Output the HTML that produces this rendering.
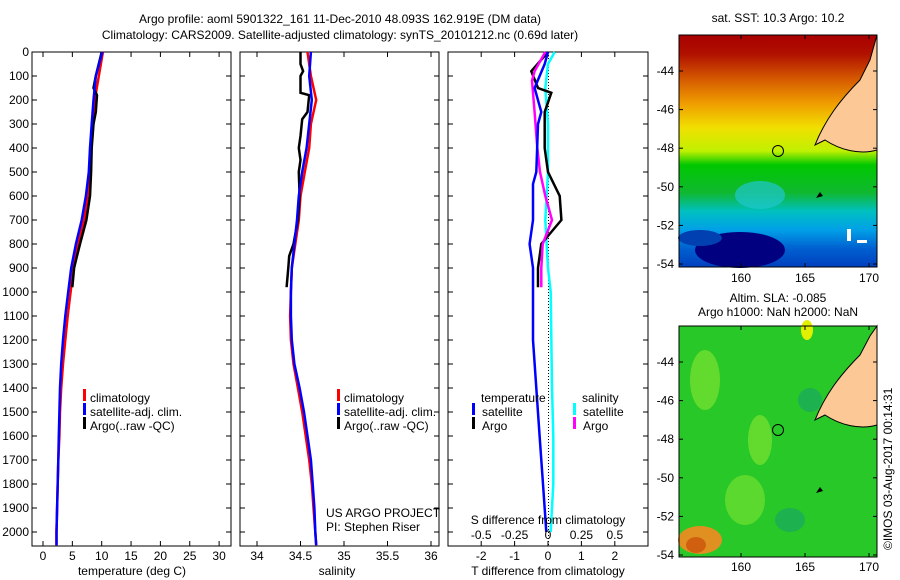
<!DOCTYPE html>
<html><head><meta charset="utf-8">
<style>
body{margin:0;background:#fff;}
svg{display:block;font-family:"Liberation Sans",sans-serif;}
text{font-size:12px;fill:#000;}
</style></head>
<body>
<svg id="chart" width="900" height="580" viewBox="0 0 900 580">
<defs>
<linearGradient id="sstg" x1="0" y1="0" x2="0" y2="1">
<stop offset="0" stop-color="#a80000"/>
<stop offset="0.08" stop-color="#b01000"/>
<stop offset="0.2" stop-color="#d86000"/>
<stop offset="0.3" stop-color="#f0a000"/>
<stop offset="0.4" stop-color="#f0e000"/>
<stop offset="0.5" stop-color="#c0f000"/>
<stop offset="0.56" stop-color="#00c800"/>
<stop offset="0.68" stop-color="#10b830"/>
<stop offset="0.76" stop-color="#00c0c0"/>
<stop offset="0.84" stop-color="#00a0e8"/>
<stop offset="0.92" stop-color="#0060d0"/>
<stop offset="1" stop-color="#0040c0"/>
</linearGradient>
</defs>
<text x="340" y="23" text-anchor="middle">Argo profile: aoml 5901322_161 11-Dec-2010 48.093S 162.919E (DM data)</text>
<text x="340" y="39" text-anchor="middle">Climatology: CARS2009. Satellite-adjusted climatology: synTS_20101212.nc (0.69d later)</text>
<g id="panels"></g>

<g>
<text x="778" y="22" text-anchor="middle">sat. SST: 10.3 Argo: 10.2</text>
<rect x="679" y="35" width="198" height="232" fill="url(#sstg)"/>
<ellipse cx="740" cy="250" rx="45" ry="18" fill="#000080"/>
<ellipse cx="700" cy="238" rx="22" ry="8" fill="#0040b0"/>
<ellipse cx="760" cy="195" rx="25" ry="14" fill="#20c8d0" opacity="0.7"/>
<path d="M877,35 L877,150 C860,155 840,150 825,140 L815,145 C825,120 840,100 860,80 L870,60 Z" fill="#fcc896" stroke="#000" stroke-width="1"/>
<circle cx="778" cy="151" r="5.5" fill="none" stroke="#000"/>
<path d="M816,198 l4,-6 l3,4 z" fill="#000"/>
<rect x="847" y="229" width="4" height="12" fill="#fff"/><rect x="857" y="240" width="10" height="3" fill="#fff"/>
<rect x="679" y="35" width="198" height="232" fill="none" stroke="#000"/>
</g>
<g>
<text x="778" y="302" text-anchor="middle">Altim. SLA: -0.085</text>
<text x="778" y="316" text-anchor="middle">Argo h1000: NaN h2000: NaN</text>
<rect x="679" y="326" width="198" height="231" fill="#28c828"/>
<ellipse cx="705" cy="380" rx="15" ry="30" fill="#70e030" opacity="0.8"/>
<ellipse cx="760" cy="440" rx="12" ry="25" fill="#70e030" opacity="0.8"/>
<ellipse cx="807" cy="330" rx="6" ry="10" fill="#e0f000"/>
<ellipse cx="810" cy="400" rx="12" ry="12" fill="#18a860" opacity="0.7"/>
<ellipse cx="745" cy="500" rx="20" ry="25" fill="#70e030" opacity="0.7"/>
<ellipse cx="790" cy="520" rx="15" ry="12" fill="#18a860" opacity="0.7"/>
<ellipse cx="700" cy="540" rx="22" ry="14" fill="#e09020"/>
<ellipse cx="696" cy="545" rx="10" ry="8" fill="#d06010"/>
<path d="M877,326 L877,425 C860,430 840,425 825,415 L815,420 C825,395 840,375 860,355 L870,336 Z" fill="#fcc896" stroke="#000" stroke-width="1"/>
<circle cx="778" cy="430" r="5.5" fill="none" stroke="#000"/>
<path d="M816,493 l4,-6 l3,4 z" fill="#000"/>
<rect x="679" y="326" width="198" height="231" fill="none" stroke="#000"/>
<text transform="translate(892,550) rotate(-90)">©IMOS 03-Aug-2017 00:14:31</text>
</g>
<g id="mapaxes"></g>
</svg>
<script>
var depthTicks=[0,100,200,300,400,500,600,700,800,900,1000,1100,1200,1300,1400,1500,1600,1700,1800,1900,2000];
var tTicks=[0,5,10,15,20,25,30];
var sTicks=[34,34.5,35,35.5,36];
var dTicks=[-2,-1,0,1,2];
var sdTicks=[-0.5,-0.25,0,0.25,0.5];
var climDepth=[0,100,200,300,400,500,600,700,800,900,1000,1100,1200,1300,1400,1500,1600,1700,1800,1900,2000,2055];
var tClim=[10.2,9.5,8.8,8.5,8.2,8.0,7.6,7.0,6.0,5.2,4.7,4.2,3.8,3.4,3.1,2.9,2.8,2.6,2.5,2.4,2.3,2.3];
var tSat=[10.1,9.0,8.6,8.3,8.0,7.8,7.3,6.6,5.6,4.8,4.3,3.8,3.4,3.1,2.9,2.8,2.7,2.6,2.5,2.4,2.3,2.3];
var argoDepth=[0,100,150,180,250,300,400,500,600,700,800,850,900,980];
var tArgo=[10.0,9.0,8.6,9.2,9.0,8.6,8.3,8.2,8.0,7.4,6.3,5.8,5.3,5.0];
var sClim=[34.58,34.62,34.68,34.62,34.6,34.55,34.5,34.48,34.44,34.4,34.39,34.38,34.39,34.42,34.47,34.52,34.56,34.6,34.63,34.65,34.67,34.68];
var sSat=[34.62,34.6,34.63,34.6,34.57,34.52,34.48,34.46,34.43,34.4,34.39,34.39,34.4,34.43,34.49,34.54,34.58,34.62,34.64,34.66,34.67,34.68];
var sArgoDepth=[0,50,80,100,170,180,250,280,350,400,450,500,600,700,800,850,900,980];
var sArgo=[34.5,34.5,34.53,34.5,34.5,34.6,34.58,34.52,34.5,34.48,34.5,34.48,34.49,34.47,34.42,34.37,34.36,34.34];
var dDepth=[0,50,150,250,300,500,550,700,800,900,1000,1200,1400,1600,1800,2000];
var dtSat=[0,-0.1,-0.4,-0.2,-0.3,-0.35,-0.45,-0.45,-0.55,-0.45,-0.45,-0.45,-0.35,-0.25,-0.15,-0.05];
var dArgoDepth=[0,80,150,170,250,400,500,600,700,750,800,900,980];
var dtArgo=[0,-0.5,-0.3,0.1,-0.1,-0.1,0,0.35,0.4,0.1,-0.2,-0.3,-0.3];
var dsSatDepth=[0,50,150,300,500,700,900,1000,1400,1600,1800,2000];
var dsSat=[0.05,0.0,-0.02,0.0,0.0,-0.02,0.0,0.02,0.03,0.04,0.04,0.02];
var dsArgoDepth=[0,80,120,250,400,500,600,700,800,900,980];
var dsArgo=[-0.02,-0.1,-0.12,-0.1,-0.08,-0.06,-0.02,0.03,-0.04,-0.05,-0.05];
var latTicks=[-44,-46,-48,-50,-52,-54];
var lonTicks=[160,165,170];

var NS='http://www.w3.org/2000/svg';
var svg=document.getElementById('chart');
var G=document.getElementById('panels');
function mk(tag,at,parent){var e=document.createElementNS(NS,tag);for(var k in at)e.setAttribute(k,at[k]);(parent||G).appendChild(e);return e;}
var top0=52,pxm=0.24,bot=546;
function yD(d){return top0+d*pxm;}
function xT(v){return 43+v*5.87;}
function xS(v){return 257+(v-34)*87;}
function xDT(v){return 548+v*33.4;}
function xDS(v){return 548+v*133.6;}
function line(xs,ds,fx,color,name){
  var pts=[];for(var i=0;i<xs.length;i++){pts.push(fx(xs[i]).toFixed(1)+','+yD(ds[i]).toFixed(1));}
  var p=mk('polyline',{points:pts.join(' '),fill:'none',stroke:color,'stroke-width':2.5});
  
  
}
function frame(x0,x1,name){
  var r=mk('rect',{x:x0,y:top0,width:x1-x0,height:bot-top0,fill:'none',stroke:'#000'});
  
  
  depthTicks.forEach(function(d){mk('line',{x1:x0,x2:x0+5,y1:yD(d),y2:yD(d),stroke:'#000'});mk('line',{x1:x1,x2:x1-5,y1:yD(d),y2:yD(d),stroke:'#000'});});
}
function xticks(vals,fx,x0,name){
  vals.forEach(function(v){var x=fx(v);mk('line',{x1:x,x2:x,y1:bot,y2:bot-5,stroke:'#000'});mk('line',{x1:x,x2:x,y1:top0,y2:top0+5,stroke:'#000'});
    var t=mk('text',{x:x,y:560,'text-anchor':'middle'});t.textContent=v;
    
    });
}
function lbl(x,y,s,name,anchor){var t=mk('text',{x:x,y:y,'text-anchor':anchor||'start'});t.textContent=s;
  
  return t;}
function legmark(x,y,c){mk('rect',{x:x,y:y-10,width:3,height:12,fill:c});}

depthTicks.forEach(function(d){var t=mk('text',{x:29,y:yD(d)+4,'text-anchor':'end'});t.textContent=d;
  
  });

frame(32,231,'temperature-panel');
xticks(tTicks,xT,32,'temp-tick-label');
lbl(132,575,'temperature (deg C)','temperature-axis-title','middle');
line(tClim,climDepth,xT,'#f00','temp-climatology-line');
line(tArgo,argoDepth,xT,'#000','temp-argo-line');
line(tSat,climDepth,xT,'#00f','temp-satellite-line');
legmark(83,399,'#f00');lbl(90,402,'climatology','legend-climatology');
legmark(83,413,'#00f');lbl(90,416,'satellite-adj. clim.','legend-satellite');
legmark(83,427,'#000');lbl(90,430,'Argo(..raw -QC)','legend-argo');

frame(240,439,'salinity-panel');
xticks(sTicks,xS,240,'sal-tick-label');
lbl(337,575,'salinity','salinity-axis-title','middle');
line(sClim,climDepth,xS,'#f00','sal-climatology-line');
line(sArgo,sArgoDepth,xS,'#000','sal-argo-line');
line(sSat,climDepth,xS,'#00f','sal-satellite-line');
legmark(337,399,'#f00');lbl(344,402,'climatology','legend-climatology-2');
legmark(337,413,'#00f');lbl(344,416,'satellite-adj. clim.','legend-satellite-2');
legmark(337,427,'#000');lbl(344,430,'Argo(..raw -QC)','legend-argo-2');
lbl(326,517,'US ARGO PROJECT','project-credit');
lbl(326,531,'PI: Stephen Riser','pi-credit');

frame(448,648,'difference-panel');
xticks(dTicks,xDT,448,'tdiff-tick-label');
lbl(548,575,'T difference from climatology','tdiff-axis-title','middle');
for(var yy=top0;yy<bot;yy+=3){mk('rect',{x:548,y:yy,width:1,height:1,fill:'#000'});}
line(dsSat,dsSatDepth,xDS,'#0ff','sdiff-satellite-line');
line(dtArgo,dArgoDepth,xDT,'#000','tdiff-argo-line');
line(dsArgo,dsArgoDepth,xDS,'#f0f','sdiff-argo-line');
line(dtSat,dDepth,xDT,'#00f','tdiff-satellite-line');
lbl(548,524,'S difference from climatology','sdiff-axis-title','middle');
sdTicks.forEach(function(v){var t=mk('text',{x:xDS(v),y:539,'text-anchor':'middle'});t.textContent=v;
  
  });
lbl(481,402,'temperature','legend-temperature-heading');
legmark(472,413,'#00f');lbl(482,416,'satellite','legend-t-satellite');
legmark(472,427,'#000');lbl(482,430,'Argo','legend-t-argo');
lbl(582,402,'salinity','legend-salinity-heading');
legmark(573,413,'#0ff');lbl(583,416,'satellite','legend-s-satellite');
legmark(573,427,'#f0f');lbl(583,430,'Argo','legend-s-argo');

var MA=document.getElementById('mapaxes');
function mapAxes(y0,h,lat0,lonY){
  latTicks.forEach(function(l){var y=lat0+(-44-l)*19.3;
    mk('line',{x1:679,x2:683,y1:y,y2:y,stroke:'#000'},MA);mk('line',{x1:877,x2:873,y1:y,y2:y,stroke:'#000'},MA);
    var t=mk('text',{x:674,y:y+4,'text-anchor':'end'},MA);t.textContent=l;
    
    });
  lonTicks.forEach(function(l){var x=741+(l-160)*12.8;
    mk('line',{x1:x,x2:x,y1:y0,y2:y0+4,stroke:'#000'},MA);mk('line',{x1:x,x2:x,y1:y0+h,y2:y0+h-4,stroke:'#000'},MA);
    var t=mk('text',{x:x,y:lonY,'text-anchor':'middle'},MA);t.textContent=l;
    
    });
}
mapAxes(35,232,71,282);
mapAxes(326,231,362,571);
</script>
</body></html>
